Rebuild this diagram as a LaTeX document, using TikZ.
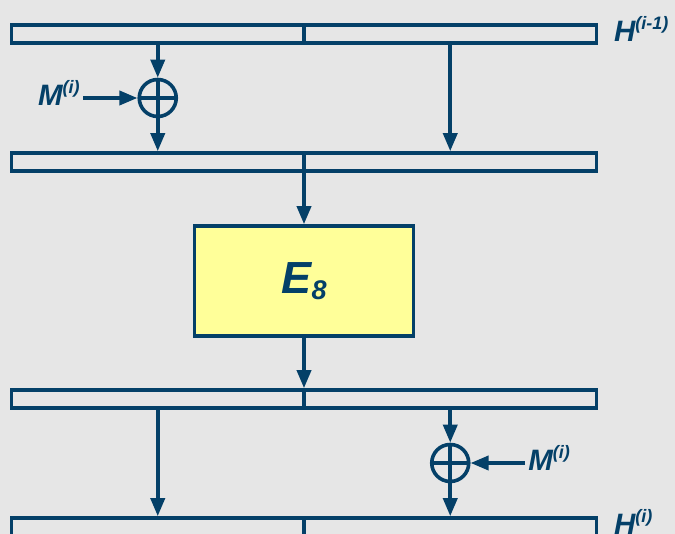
\documentclass[tikz,border=0pt]{standalone}
\usepackage{fontspec}
\setmainfont{Liberation Sans}
\usepackage{tikz}
\usetikzlibrary{arrows.meta,positioning}

\definecolor{lineblue}{RGB}{4,64,104}
\definecolor{boxyellow}{RGB}{255,255,153}
\definecolor{bggray}{RGB}{230,230,230}
\newcommand{\upidx}[1]{\raisebox{12.5pt}{\fontsize{18}{18}\selectfont #1}}

\begin{document}
\begin{tikzpicture}[
    x=1pt, y=-1pt,
    lineblue, line width=3.6pt,
    half/.style={rectangle, draw, minimum width=292.5pt, minimum height=18pt, inner sep=0pt},
    xor/.style={circle, draw, minimum size=37pt, inner sep=0pt,
        path picture={\draw (path picture bounding box.north) -- (path picture bounding box.south)
                            (path picture bounding box.west) -- (path picture bounding box.east);}},
    ebox/.style={rectangle, draw, fill=boxyellow, minimum width=219pt, minimum height=110pt, inner sep=0pt},
    arrow/.style={-{Triangle[length=18pt,width=14pt]}},
    label/.style={font=\fontsize{29.5}{31}\selectfont\bfseries\itshape, inner sep=2pt}
]
\fill[bggray] (0,0) rectangle (675,534);
\useasboundingbox (0,0) rectangle (675,534);

% Chaining value H(i-1)
\node[half] (h0l) at (157.75,34) {};
\node[half] (h0r) at (450.25,34) {};
\node[label, right=12pt of h0r, yshift=5pt] (hprev) {H\upidx{(i-1)}};

% Message injection left
\node[xor] (xor1) at (157.75,98) {};
\node[label, left=54pt of xor1, yshift=5pt] (min1) {M\upidx{(i)}};

\node[half] (m1l) at (157.75,162) {};
\node[half] (m1r) at (450.25,162) {};

\draw[arrow] (h0l.south) -- (xor1.north);
\draw[arrow] (min1.east |- xor1) -- (xor1.west);
\draw[arrow] (xor1.south) -- (m1l.north);
\draw[arrow] (h0r.south) -- (m1r.north);

% Permutation
\node[ebox] (e8) at (304,281) {\fontsize{45}{48}\selectfont\bfseries\itshape E\raisebox{-6pt}{\fontsize{27}{27}\selectfont 8}};

\node[half] (e1l) at (157.75,399) {};
\node[half] (e1r) at (450.25,399) {};

\draw[arrow] (e8.north |- m1l.south) -- (e8.north);
\draw[arrow] (e8.south) -- (e8.south |- e1l.north);

% Message injection right
\node[xor] (xor2) at (450.25,463) {};
\node[label, right=54pt of xor2, yshift=5pt] (min2) {M\upidx{(i)}};

\node[half] (h1l) at (157.75,527) {};
\node[half] (h1r) at (450.25,527) {};
\node[label, right=12pt of h1r, yshift=5pt] (hnext) {H\upidx{(i)}};

\draw[arrow] (e1l.south) -- (h1l.north);
\draw[arrow] (e1r.south) -- (xor2.north);
\draw[arrow] (min2.west |- xor2) -- (xor2.east);
\draw[arrow] (xor2.south) -- (h1r.north);

\end{tikzpicture}
\end{document}
